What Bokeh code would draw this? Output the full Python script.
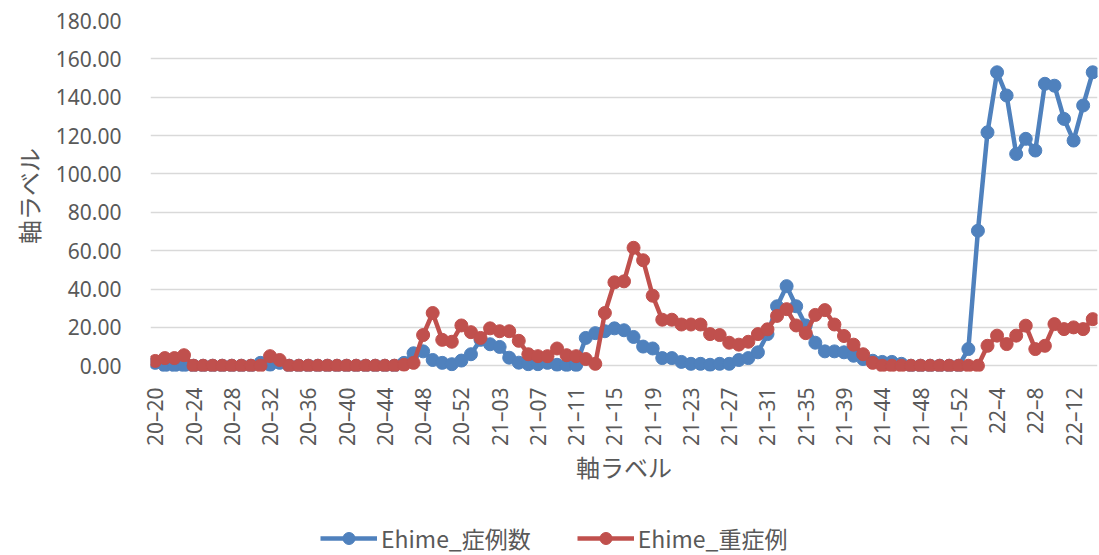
import math
from bokeh.plotting import figure
from bokeh.layouts import column
from bokeh.models import (Range1d, FixedTicker, NumeralTickFormatter, Legend,
                          LegendItem, ColumnDataSource)
from bokeh.embed import file_html
from bokeh.resources import INLINE

# ---- data -------------------------------------------------------------
weeks = ("20–20 20–21 20–22 20–23 20–24 20–25 20–26 20–27 20–28 20–29 "
         "20–30 20–31 20–32 20–33 20–34 20–35 20–36 20–37 20–38 20–39 "
         "20–40 20–41 20–42 20–43 20–44 20–45 20–46 20–47 20–48 20–49 "
         "20–50 20–51 20–52 20–53 "
         "21–01 21–02 21–03 21–04 21–05 21–06 21–07 21–08 21–09 21–10 "
         "21–11 21–12 21–13 21–14 21–15 21–16 21–17 21–18 21–19 21–20 "
         "21–21 21–22 21–23 21–24 21–25 21–26 21–27 21–28 21–29 21–30 "
         "21–31 21–32 21–33 21–34 21–35 21–36 21–37 21–38 21–39 21–40 "
         "21–41 21–42 21–44 21–45 21–46 21–47 21–48 21–49 21–50 21–51 "
         "21–52 22–1 22–2 22–3 22–4 22–5 22–6 22–7 22–8 22–9 22–10 "
         "22–11 22–12 22–13 22–14").split()

cases = [1.5, 0, 0, 0, 0, 0, 0, 0, 0, 0,
         0, 1.5, 0.5, 1.5, 0, 0, 0, 0, 0, 0,
         0, 0, 0, 0, 0, 0, 1.5, 6.5, 7.5, 3,
         1.5, 0.8, 2.7, 6, 13.5, 11.2, 9.8, 4.2, 1.6, 0.8,
         0.8, 1.5, 0.5, 0.3, 0.3, 14.5, 17, 18, 19.5, 18.5,
         15, 10, 9, 4, 4, 2, 1, 1, 0.5, 1,
         1, 3, 4, 7, 16.5, 31, 41.5, 31, 21, 12,
         7.5, 7.5, 7, 5.2, 3.5, 2.6, 2, 2, 1, 0,
         0, 0, 0, 0, 0, 8.7, 70.4, 121.7, 153, 140.9,
         110.4, 118.3, 112.2, 147, 146, 128.7, 117.4, 135.7, 153]

severe = [2.5, 4, 4, 5.5, 0, 0, 0, 0, 0, 0,
          0, 0, 5, 3, 0, 0, 0, 0, 0, 0,
          0, 0, 0, 0, 0, 0, 0.5, 1.5, 16, 27.5,
          13.5, 12.5, 21, 17.5, 14.5, 19.5, 18, 18, 13, 6,
          5, 5, 9, 5.5, 5, 3.5, 1, 27.5, 43.5, 44,
          61.5, 55, 36.5, 24, 24, 21.5, 21.5, 21.5, 16.5, 16,
          12, 11, 12.5, 16.5, 19, 26, 29.5, 21, 17, 26.5,
          29, 21.5, 15.5, 11, 6, 1.5, 0, 0, 0, 0,
          0, 0, 0, 0, 0, 0, 0, 10.4, 15.7, 11.3,
          15.7, 20.9, 8.7, 10.4, 21.7, 19.1, 20, 19.1, 24.3]

series_names = ["Ehime_症例数", "Ehime_重症例"]
y_ticks = [0, 20, 40, 60, 80, 100, 120, 140, 160, 180]
x_tick_step = 4
axis_title = "軸ラベル"

# ---- styles -----------------------------------------------------------
BLUE = "#4F81BD"
RED = "#C0504D"
GREY = "#595959"
JP = "Noto Sans CJK JP"
LW = 4.5
MS = 13

xs = list(range(len(weeks)))
src = ColumnDataSource(dict(x=xs, cases=cases, severe=severe, week=weeks))

# ---- main chart -------------------------------------------------------
p = figure(width=1099, height=500, output_backend="svg", toolbar_location=None,
           x_range=Range1d(-0.5, len(weeks) - 0.5), y_range=Range1d(-3, 180),
           min_border_left=150, min_border_right=2, min_border_top=20,
           min_border_bottom=129)
p.outline_line_color = None

p.line("x", "cases", source=src, line_color=BLUE, line_width=LW)
p.scatter("x", "cases", source=src, size=MS, fill_color=BLUE, line_color=BLUE)
p.line("x", "severe", source=src, line_color=RED, line_width=LW)
p.scatter("x", "severe", source=src, size=MS, fill_color=RED, line_color=RED)

xt = list(range(0, len(weeks), x_tick_step))
p.xaxis.ticker = FixedTicker(ticks=xt)
p.xaxis.major_label_overrides = {i: weeks[i] for i in xt}
p.xaxis.major_label_orientation = math.pi / 2
p.xaxis.axis_line_color = None
p.xaxis.major_tick_line_color = None
p.xaxis.minor_tick_line_color = None
p.xaxis.major_label_standoff = 10
p.xaxis.major_label_text_font = "Noto Sans"
p.xaxis.major_label_text_font_size = "21px"
p.xaxis.major_label_text_color = GREY
p.xaxis.axis_label = axis_title
p.xaxis.axis_label_standoff = 0
p.xaxis.axis_label_text_font = JP
p.xaxis.axis_label_text_font_size = "24px"
p.xaxis.axis_label_text_font_style = "normal"
p.xaxis.axis_label_text_color = GREY
p.xgrid.grid_line_color = None

p.yaxis.ticker = FixedTicker(ticks=y_ticks)
p.yaxis.formatter = NumeralTickFormatter(format="0.00")
p.yaxis.axis_line_color = None
p.yaxis.major_tick_line_color = None
p.yaxis.minor_tick_line_color = None
p.yaxis.major_label_standoff = 23
p.yaxis.major_label_text_font = "Noto Sans"
p.yaxis.major_label_text_font_size = "21px"
p.yaxis.major_label_text_color = GREY
p.yaxis.axis_label = axis_title
p.yaxis.axis_label_standoff = 7
p.yaxis.axis_label_text_font = JP
p.yaxis.axis_label_text_font_size = "24px"
p.yaxis.axis_label_text_font_style = "normal"
p.yaxis.axis_label_text_color = GREY
p.ygrid.grid_line_color = "#D9D9D9"
p.ygrid.grid_line_width = 1.3

# ---- legend strip (series drawn off-range, only their legend shows) ----
q = figure(width=1099, height=55, output_backend="svg", toolbar_location=None,
           x_axis_type=None, y_axis_type=None,
           x_range=Range1d(-0.5, len(weeks) - 0.5), y_range=Range1d(1000, 1001),
           min_border_left=0, min_border_right=0, min_border_top=0,
           min_border_bottom=0)
q.outline_line_color = None
q.xgrid.grid_line_color = None
q.ygrid.grid_line_color = None
k1 = q.line("x", "cases", source=src, line_color=BLUE, line_width=LW)
m1 = q.scatter("x", "cases", source=src, size=MS, fill_color=BLUE, line_color=BLUE)
k2 = q.line("x", "severe", source=src, line_color=RED, line_width=LW)
m2 = q.scatter("x", "severe", source=src, size=MS, fill_color=RED, line_color=RED)

legend = Legend(items=[LegendItem(label=series_names[0], renderers=[k1, m1]),
                       LegendItem(label=series_names[1], renderers=[k2, m2])],
                orientation="horizontal", location=(170, 0),
                glyph_width=57, glyph_height=30, label_standoff=4, spacing=46,
                padding=0, margin=0, border_line_color=None,
                background_fill_alpha=0,
                label_text_font=JP, label_text_font_size="23px",
                label_text_color=GREY)
q.add_layout(legend, "center")

open("out.html", "w").write(file_html(column(p, q, spacing=0), INLINE))
